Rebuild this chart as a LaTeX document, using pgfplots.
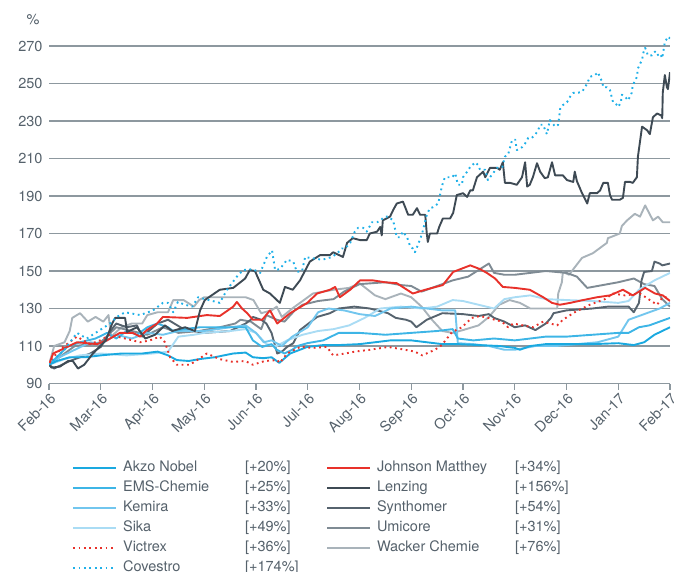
\documentclass[border=0pt]{standalone}
\usepackage{pgfplots}
\pgfplotsset{compat=1.18}
\usepackage{fontspec}
\setmainfont{TeX Gyre Heros}
\definecolor{akzo}{HTML}{1AA9E0}
\definecolor{ems}{HTML}{3DB5E6}
\definecolor{kemira}{HTML}{72C6EE}
\definecolor{sika}{HTML}{AADCF4}
\definecolor{jmred}{HTML}{E8312A}
\definecolor{cov}{HTML}{1FB0E8}
\definecolor{lenz}{HTML}{3E4A54}
\definecolor{synth}{HTML}{56636E}
\definecolor{umi}{HTML}{7F8B94}
\definecolor{wack}{HTML}{A9B3BA}
\definecolor{gridc}{HTML}{8D989F}
\definecolor{txt}{HTML}{55616B}
\tikzset{dotline/.style={dash pattern=on 1.8pt off 3.6pt}}
\begin{document}
\begin{tikzpicture}
\useasboundingbox (-49pt,-187.5pt) rectangle (627pt,383.5pt);
\begin{axis}[
  scale only axis, width=621pt, height=348.75pt,
  xmin=0, xmax=12, ymin=90, ymax=276,
  clip mode=individual,
  axis x line*=bottom, axis y line*=left,
  y axis line style={draw=none},
  x axis line style={gridc, line width=1.5pt},
  tick align=outside, major tick length=6pt,
  xtick={0,...,12},
  xticklabels={Feb-16,Mar-16,Apr-16,May-16,Jun-16,Jul-16,Aug-16,Sep-16,Oct-16,Nov-16,Dec-16,Jan-17,Feb-17},
  xtick style={gridc, line width=1.3pt},
  ytick={90,110,...,270},
  ytick style={draw=none},
  ymajorgrids, major grid style={gridc, line width=1.5pt},
  /pgf/number format/assume math mode=true,
  ticklabel style={font=\fontsize{14.5}{16}\selectfont, text=txt},
  xticklabel style={rotate=45, anchor=north east, inner sep=2pt},
  yticklabel style={xshift=3pt},
  every axis plot/.append style={line width=1.9pt, line join=round},
  legend columns=2,
  legend cell align=left,
  legend image code/.code={\draw[line width=1.9pt,#1] (0pt,0pt) -- (43pt,0pt);},
  legend style={draw=none, fill=none, inner sep=0pt, at={(axis description cs:0,0)}, anchor=north west,
    xshift=23pt, yshift=-76.5pt, column sep=6pt, row sep=5pt,
    font=\fontsize{14.5}{16}\selectfont, text=txt,
    nodes={text height=10pt, text depth=3pt, inner xsep=0pt, inner ysep=1pt}},
]
% Wacker Chemie
\addplot[draw=wack, forget plot] coordinates {(0,100) (0.1,110) (0.3,112) (0.4,118) (0.45,125) (0.6,127.5) (0.75,123) (0.9,125.5) (1.05,123) (1.15,126.5) (1.2,115) (1.4,120) (1.6,122) (1.8,122) (1.9,126.5) (2.1,128) (2.3,128) (2.4,134.5) (2.6,134.5) (2.8,131) (2.9,134.5) (3.0,136) (3.4,136) (3.8,136) (3.95,134.5) (4.1,127.5) (4.3,129) (4.4,131) (4.5,125.5) (4.7,130) (4.85,133) (5.1,138) (5.3,139) (5.5,140) (5.8,141) (6.0,143.5) (6.3,137) (6.5,135) (6.8,138) (7.0,136) (7.2,131) (7.4,124) (7.6,118) (7.8,117) (8.0,118.5) (8.3,121) (8.5,125.5) (8.7,132) (8.9,134.5) (9.1,133) (9.3,130) (9.5,130) (9.82,130) (9.84,138) (9.91,144) (9.93,149.5) (10.05,148) (10.16,152) (10.30,157) (10.51,159.5) (10.78,165) (10.80,167.5) (11.03,170) (11.07,174) (11.17,177) (11.32,180.5) (11.42,179) (11.52,185) (11.67,177) (11.77,179) (11.86,176) (12,176)};
% Umicore
\addplot[draw=umi, forget plot] coordinates {(0,100) (0.2,104) (0.5,110) (0.8,111) (1.0,112) (1.3,120) (1.6,118) (1.9,116) (2.2,120) (2.5,117) (2.9,118) (3.0,118.5) (3.3,120) (3.6,122) (3.7,124) (3.9,123) (4.1,119) (4.2,126.5) (4.4,124) (4.55,123) (4.75,129) (4.9,132) (5.2,134) (5.5,135) (5.7,139) (6.0,143) (6.5,144) (6.8,142.5) (7.0,142) (7.2,139) (7.5,142) (7.8,145) (8.1,147) (8.3,150.5) (8.5,154) (8.6,149) (8.8,148) (9.0,148) (9.3,149) (9.6,150) (10.0,149) (10.2,147) (10.4,141) (10.8,143) (11.0,144) (11.3,146) (11.5,143) (11.7,142) (11.85,135) (12,131)};
% Synthomer
\addplot[draw=synth, forget plot] coordinates {(0,100) (0.1,98) (0.4,102) (0.8,106) (1.0,109.5) (1.2,118.5) (1.3,122) (1.5,120) (1.7,121) (1.8,115) (2.1,122) (2.3,124) (2.6,119) (2.9,117.5) (3.0,117) (3.5,118) (3.8,122) (3.9,124) (3.94,125.5) (4.1,124) (4.2,122) (4.3,117) (4.41,106) (4.5,107) (4.6,109.5) (4.72,111.5) (4.85,118.5) (5.18,125.5) (5.43,127.5) (5.6,130) (5.9,131) (6.2,130) (6.55,127.5) (6.7,125) (6.9,124) (7.0,123) (7.1,120) (7.3,124) (7.6,127.5) (8.0,127) (8.3,126) (8.5,127) (8.6,125) (8.8,123) (9.0,120) (9.2,121) (9.4,118.5) (9.6,122) (9.7,125) (9.75,127.5) (10.0,129) (10.5,130) (10.8,131) (11.2,131) (11.3,128) (11.4,133) (11.45,145) (11.5,149.5) (11.65,150) (11.7,155) (11.8,154) (11.85,153) (12,154)};
% Sika
\addplot[draw=sika, forget plot] coordinates {(0,100) (0.3,103) (0.6,105) (1.0,106) (1.5,105) (2.0,106) (2.3,107) (2.5,115) (2.8,116) (3.0,117) (3.5,118) (3.8,119) (4.0,117) (4.2,111) (4.4,110) (4.6,113) (4.9,116) (5.2,118) (5.5,119) (5.8,121) (6.1,125) (6.4,130) (6.8,131) (7.2,130) (7.5,131) (7.8,134.5) (8.0,134) (8.3,132) (8.6,130) (8.8,135) (9.0,136) (9.3,137) (9.6,135) (10.0,134.5) (10.5,134) (11.0,133) (11.2,134) (11.4,140) (11.7,145) (12,149)};
% Kemira
\addplot[draw=kemira, forget plot] coordinates {(0,100) (0.2,104) (0.5,108) (0.8,112) (1.0,111) (1.3,116) (1.6,114) (1.9,117) (2.2,116) (2.5,118) (3.0,118) (3.5,120) (3.8,121) (4.0,117) (4.15,112) (4.3,113) (4.5,110) (4.7,115) (5.0,120) (5.2,128) (5.4,130) (5.7,129) (6.0,127) (6.3,126) (6.6,130) (7.0,131) (7.3,130) (7.6,129) (7.85,129) (7.9,111.5) (8.2,111) (8.5,110) (8.8,108) (9.0,108) (9.4,110) (9.8,110) (10.2,111) (10.6,112) (11.0,115) (11.2,124) (11.5,127) (11.8,130) (12,133)};
% EMS-Chemie
\addplot[draw=ems, forget plot] coordinates {(0,100) (0.15,104) (0.35,109.5) (0.6,112) (0.9,114) (1.12,117) (1.3,114) (1.5,118) (1.7,116) (1.9,120) (2.09,122) (2.3,120) (2.4,118) (2.6,119) (2.92,120) (3.3,120) (3.56,120) (3.8,120) (3.94,113) (4.12,109.5) (4.3,111) (4.4,108) (4.55,106) (4.7,108) (4.8,110) (4.99,111.5) (5.3,113) (5.6,117) (6.0,117) (6.5,116) (7.0,117) (7.5,118) (7.8,119) (7.9,114) (8.2,113) (8.6,114) (9.0,113) (9.3,114) (9.6,115) (10.0,115) (10.5,116) (11.0,117) (11.2,117) (11.4,120) (11.6,121) (11.8,123) (12,125)};
% Akzo Nobel
\addplot[draw=akzo, forget plot] coordinates {(0,100) (0.15,102) (0.4,104) (0.7,104) (1.0,105) (1.4,106) (1.8,106) (2.1,107) (2.3,105) (2.47,102.5) (2.7,102) (2.9,103) (3.2,104) (3.56,106) (3.8,106.5) (3.94,104) (4.14,103.5) (4.3,104) (4.45,101) (4.66,106) (4.99,109.5) (5.3,110.5) (5.6,110.5) (6.0,111) (6.3,112) (6.6,113) (7.0,113) (7.3,112) (7.6,111) (7.9,111) (8.3,110.5) (8.7,110) (9.0,109) (9.1,108) (9.3,110) (9.6,111) (10.0,111) (10.5,111) (11.0,111.5) (11.3,110.5) (11.5,112) (11.7,116) (11.85,118) (12,120)};
% Johnson Matthey
\addplot[draw=jmred, forget plot] coordinates {(0,100) (0.08,106) (0.35,109.5) (0.54,112) (0.73,111.5) (0.93,111) (1.12,113) (1.37,117) (1.62,117) (1.76,115) (1.89,118.5) (2.09,122) (2.2,125.5) (2.67,125) (3.05,126.5) (3.3,126) (3.56,131) (3.63,133.5) (3.73,130) (3.83,127.5) (3.94,124) (4.12,124) (4.27,129) (4.41,122) (4.66,127.5) (4.99,133) (5.18,138) (5.43,140) (5.53,141.5) (5.62,136) (5.82,140) (6.01,145) (6.26,145) (6.49,144) (6.72,143.5) (7.03,138) (7.27,140) (7.61,142.5) (7.81,149.5) (8.14,153) (8.33,151) (8.46,149) (8.62,146) (8.77,141.5) (9.0,141) (9.29,140) (9.55,136) (9.72,133) (9.87,132) (10.07,133) (10.32,134.5) (10.59,136) (10.84,137) (11.09,140) (11.28,137) (11.52,141) (11.71,138) (11.86,137) (12,134)};
% Victrex
\addplot[draw=jmred, dotline, forget plot] coordinates {(0,100) (0.08,104) (0.25,109) (0.54,115) (0.79,111) (0.99,113) (1.18,116) (1.47,114) (1.76,112) (1.95,113) (2.14,115) (2.24,112) (2.34,104) (2.47,100) (2.72,100) (2.92,103.5) (3.05,106) (3.3,103) (3.56,101.5) (3.79,102) (3.94,100) (4.17,102) (4.41,102.5) (4.46,101) (4.6,106) (4.85,109.5) (5.1,109) (5.37,109.5) (5.49,105) (5.72,106) (5.91,107) (6.2,108) (6.55,109.5) (6.88,108) (7.07,107) (7.21,105) (7.46,108) (7.59,110.5) (7.79,117.5) (7.98,120) (8.17,125) (8.33,126) (8.48,125) (8.75,123) (8.87,120) (8.97,122) (9.35,120) (9.55,123) (9.82,121) (9.93,124) (10.16,128) (10.45,132) (10.74,135) (10.9,138) (11.13,137) (11.42,138) (11.61,134.5) (11.75,132) (11.86,136) (12,136)};
% Lenzing
\addplot[draw=lenz, forget plot] coordinates {(0,100) (0.05,98.5) (0.21,99) (0.37,102) (0.46,102) (0.56,98) (0.68,100) (0.85,106) (0.99,110) (1.10,113) (1.22,122) (1.28,125) (1.47,125) (1.51,117.5) (1.70,120) (1.86,114) (2.05,116) (2.24,121) (2.38,118) (2.63,120) (2.82,118) (2.92,129) (3.01,134.5) (3.30,140) (3.56,141) (3.79,146) (3.88,150.5) (3.98,150) (4.14,140) (4.27,138) (4.46,133) (4.56,141.5) (4.71,140) (4.85,145) (5.04,155) (5.24,158.5) (5.43,158.5) (5.49,160) (5.68,157.5) (5.76,165) (5.87,167.5) (6.01,166.5) (6.14,166.5) (6.20,170) (6.34,171) (6.40,173.5) (6.43,169) (6.45,177) (6.59,179) (6.65,182.5) (6.72,186) (6.84,187) (6.94,180) (7.03,180) (7.11,183.5) (7.17,180) (7.27,180) (7.30,170) (7.32,165.5) (7.36,170) (7.50,170) (7.54,173.5) (7.61,178) (7.75,178) (7.81,181) (7.88,190.5) (8.00,191.5) (8.08,189.5) (8.14,193) (8.19,193) (8.27,200) (8.39,203) (8.43,200) (8.52,205) (8.66,205) (8.71,204) (8.77,208) (8.81,197) (8.91,197) (9.04,196) (9.14,200) (9.20,208) (9.24,195) (9.29,196) (9.35,200) (9.43,207.5) (9.49,203) (9.58,199.5) (9.64,200) (9.72,208) (9.78,201) (9.93,201) (10.01,198.5) (10.13,197.5) (10.16,203) (10.20,198) (10.30,191.5) (10.40,186) (10.45,191.5) (10.59,191.5) (10.65,193) (10.71,197) (10.80,197) (10.84,190.5) (10.88,188) (11.03,188) (11.09,189) (11.13,197.5) (11.23,197.5) (11.28,197) (11.36,200) (11.38,211) (11.46,227) (11.56,225) (11.61,223) (11.67,232) (11.75,234) (11.83,233) (11.85,231.5) (11.86,245) (11.90,254.5) (11.94,248) (11.96,247) (12,256)};
% Covestro
\addplot[draw=cov, dotline, forget plot] coordinates {(0,100) (0.1,103) (0.3,108) (0.54,117) (0.73,114) (0.9,117) (1.18,122) (1.31,125.5) (1.47,128) (1.76,126.5) (2.01,129) (2.2,133) (2.3,133) (2.4,128) (2.49,133.5) (2.63,132) (2.77,131) (2.88,136) (3.3,133) (3.44,140) (3.63,147) (3.75,150.5) (3.94,151) (4.08,149) (4.21,157.5) (4.31,161) (4.37,150.5) (4.46,151) (4.6,156) (4.72,155) (4.79,149.5) (4.89,150) (4.95,157.5) (5.04,157) (5.28,156) (5.47,157.5) (5.57,159.5) (5.66,162) (5.72,162) (5.82,165) (5.91,171) (5.97,173) (6.07,173) (6.14,171) (6.24,176) (6.34,176) (6.40,177) (6.49,179) (6.55,179) (6.65,177) (6.69,172) (6.72,168) (6.78,168) (6.84,171) (6.92,168) (6.98,163) (7.03,162) (7.07,160) (7.13,164) (7.21,170) (7.30,180) (7.36,183.5) (7.42,184) (7.52,186) (7.59,195) (7.65,200) (7.79,200) (7.85,202) (7.88,198.5) (7.90,196) (7.98,196) (8.00,200) (8.08,203) (8.14,205.5) (8.24,208) (8.29,206.5) (8.33,204) (8.43,204) (8.48,198.5) (8.66,205) (8.76,205.5) (8.81,211) (8.87,212) (8.95,220) (9.01,220) (9.04,214.5) (9.14,216) (9.20,218) (9.26,221) (9.33,221) (9.39,222.5) (9.45,225) (9.49,228) (9.55,228) (9.59,225) (9.62,223) (9.68,230.5) (9.78,227) (9.84,228) (9.88,237) (9.93,238.5) (10.01,240) (10.07,243) (10.13,245) (10.20,245) (10.30,245.5) (10.40,250) (10.45,253.5) (10.55,254.5) (10.61,256) (10.65,253) (10.69,251) (10.71,248) (10.78,248) (10.84,246.5) (10.88,242) (10.90,240) (10.98,238.5) (11.00,237.5) (11.05,240) (11.07,244) (11.13,243) (11.19,241) (11.26,245) (11.28,249) (11.36,253.5) (11.38,258) (11.42,260.5) (11.46,262.5) (11.48,266) (11.52,269) (11.55,267) (11.57,265) (11.65,265) (11.71,267) (11.75,265) (11.81,266) (11.85,263.5) (11.90,272) (11.96,275) (12,274)};
% legend
\addlegendimage{draw=akzo}\addlegendentry{\makebox[197pt][l]{\makebox[122pt][l]{Akzo Nobel}[+20\%]}}
\addlegendimage{draw=jmred}\addlegendentry{\makebox[138pt][l]{Johnson Matthey}[+34\%]}
\addlegendimage{draw=ems}\addlegendentry{\makebox[197pt][l]{\makebox[122pt][l]{EMS-Chemie}[+25\%]}}
\addlegendimage{draw=lenz}\addlegendentry{\makebox[138pt][l]{Lenzing}[+156\%]}
\addlegendimage{draw=kemira}\addlegendentry{\makebox[197pt][l]{\makebox[122pt][l]{Kemira}[+33\%]}}
\addlegendimage{draw=synth}\addlegendentry{\makebox[138pt][l]{Synthomer}[+54\%]}
\addlegendimage{draw=sika}\addlegendentry{\makebox[197pt][l]{\makebox[122pt][l]{Sika}[+49\%]}}
\addlegendimage{draw=umi}\addlegendentry{\makebox[138pt][l]{Umicore}[+31\%]}
\addlegendimage{draw=jmred, dotline}\addlegendentry{\makebox[197pt][l]{\makebox[122pt][l]{Victrex}[+36\%]}}
\addlegendimage{draw=wack}\addlegendentry{\makebox[138pt][l]{Wacker Chemie}[+76\%]}
\addlegendimage{draw=cov, dotline}\addlegendentry{\makebox[197pt][l]{\makebox[122pt][l]{Covestro}[+174\%]}}
\node[text=txt, font=\fontsize{14.5}{16}\selectfont] at (axis description cs:0,1) [xshift=-16pt, yshift=15pt] {\%};
\end{axis}
\end{tikzpicture}
\end{document}
